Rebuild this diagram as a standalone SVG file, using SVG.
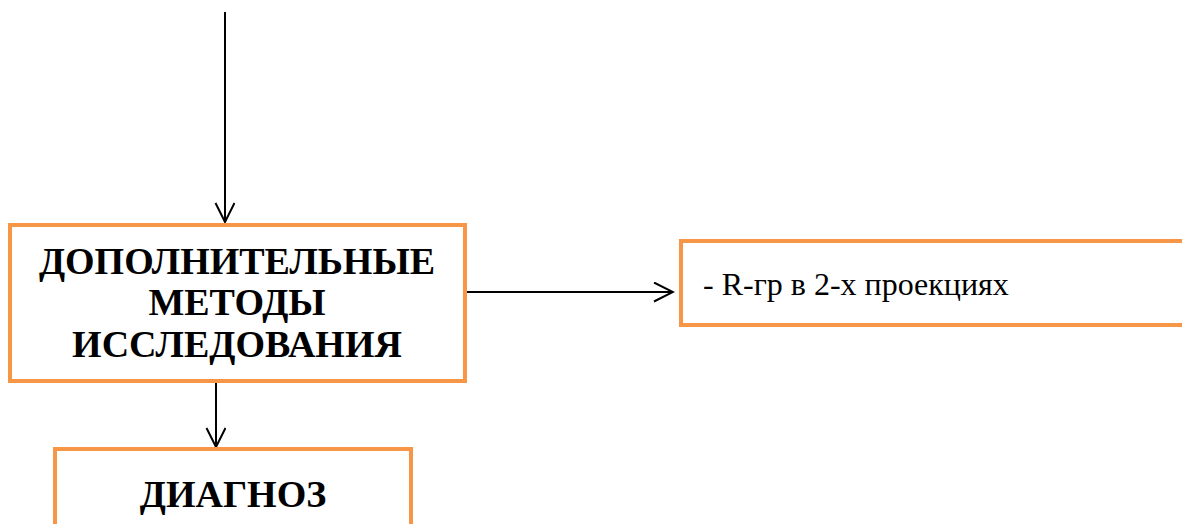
<svg xmlns="http://www.w3.org/2000/svg" width="1182" height="524" viewBox="0 0 1182 524">
<style>
.box{fill:#fff;stroke:#F79646;stroke-width:4}
.conn{stroke:#000;stroke-width:2;fill:none}
.h{font-family:"Liberation Serif","Times New Roman",serif;font-weight:bold;font-size:38px;fill:#000;text-anchor:middle}
.t{font-family:"Liberation Serif","Times New Roman",serif;font-size:32px;fill:#000}
</style>
<defs>
<marker id="arr" viewBox="0 0 22 22" refX="20" refY="10" markerWidth="22" markerHeight="22" markerUnits="userSpaceOnUse" orient="auto">
<path d="M1,0.5 L20,10 L1,19.5" fill="none" stroke="#000" stroke-width="2"/>
</marker>
</defs>
<rect width="1182" height="524" fill="#fff"/>
<g id="connectors">
<line class="conn" x1="225" y1="12" x2="225" y2="222" marker-end="url(#arr)"/>
<line class="conn" x1="467" y1="292" x2="673" y2="292" marker-end="url(#arr)"/>
<line class="conn" x1="216" y1="383" x2="216" y2="447" marker-end="url(#arr)"/>
</g>
<g id="node-methods">
<rect class="box" x="10" y="225" width="455" height="156"/>
<text class="h" x="237" y="274">ДОПОЛНИТЕЛЬНЫЕ</text>
<text class="h" x="237" y="315">МЕТОДЫ</text>
<text class="h" x="237" y="357">ИССЛЕДОВАНИЯ</text>
</g>
<g id="node-rgr">
<rect class="box" x="681" y="241" width="520" height="84"/>
<text class="t" x="703" y="295">- R-гр в 2-х проекциях</text>
</g>
<g id="node-diagnosis">
<rect class="box" x="55" y="449" width="356" height="100"/>
<text class="h" x="233" y="507">ДИАГНОЗ</text>
</g>
</svg>
